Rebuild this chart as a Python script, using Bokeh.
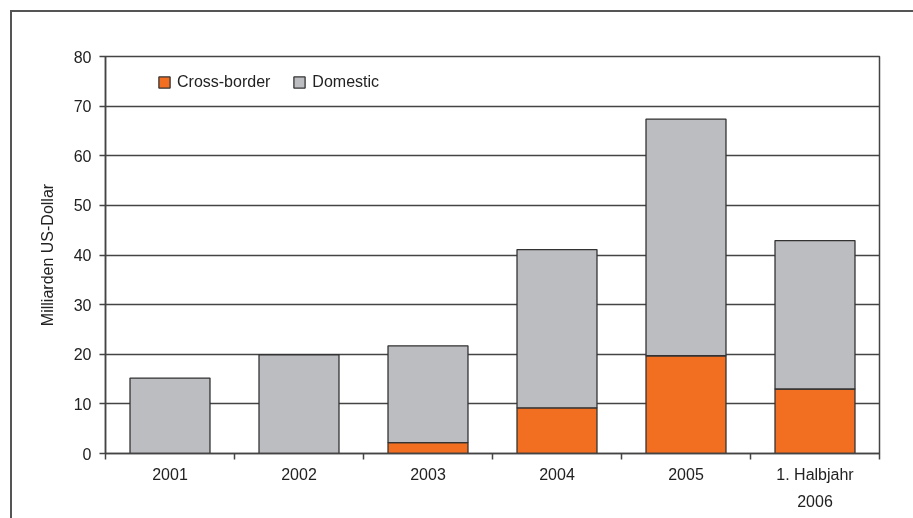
import numpy as np
from bokeh.plotting import figure
from bokeh.models import (ColumnDataSource, FixedTicker, Range1d, Legend)
from bokeh.embed import file_html
from bokeh.resources import INLINE

categories = ["2001", "2002", "2003", "2004", "2005", "1. Halbjahr\n2006"]
cross_border = [0.0, 0.0, 2.2, 9.2, 19.7, 13.0]
domestic = [15.2, 19.9, 19.5, 31.9, 47.7, 29.9]
y_ticks = [0, 10, 20, 30, 40, 50, 60, 70, 80]
series = ["Cross-border", "Domestic"]
colors = ["#F26F22", "#BCBDC1"]

FONT = "Liberation Sans"
x = np.arange(len(categories)) + 0.5
source = ColumnDataSource(dict(x=x, cb=cross_border, dom=domestic))

p = figure(width=905, height=518, output_backend="svg", toolbar_location=None,
           x_range=Range1d(0, len(categories)), y_range=Range1d(0, 80),
           min_border_left=93, min_border_right=38, min_border_top=44, min_border_bottom=77)
p.styles = {"position": "fixed", "left": "10px", "top": "10px",
            "border-style": "solid none none solid", "border-width": "2px 0px 0px 2px",
            "border-color": "#555555"}

rs = p.vbar_stack(["cb", "dom"], x="x", width=0.62, source=source, color=colors,
                  line_color="#333333", line_width=1.3)

p.xaxis.ticker = FixedTicker(ticks=list(x), minor_ticks=list(range(len(categories) + 1)))
p.xaxis.major_label_overrides = {float(xi): c for xi, c in zip(x, categories)}
p.xaxis.major_tick_out = 0
p.xaxis.major_tick_in = 0
p.xaxis.minor_tick_out = 6
p.xaxis.minor_tick_in = 0
p.xaxis.minor_tick_line_color = "#444444"
p.xaxis.minor_tick_line_width = 1.5
p.xaxis.major_label_standoff = 6
p.xaxis.major_label_text_line_height = 1.6

p.yaxis.ticker = FixedTicker(ticks=y_ticks)
p.yaxis.minor_tick_line_color = None
p.yaxis.major_tick_out = 6
p.yaxis.major_tick_in = 0
p.yaxis.major_tick_line_color = "#444444"
p.yaxis.major_tick_line_width = 1.5
p.yaxis.axis_label = "Milliarden US-Dollar"
p.yaxis.axis_label_standoff = 15
p.yaxis.major_label_standoff = 8

for ax in (p.xaxis[0], p.yaxis[0]):
    ax.axis_line_color = "#444444"
    ax.axis_line_width = 1.5
    ax.major_label_text_font = FONT
    ax.major_label_text_font_size = "16px"
    ax.major_label_text_color = "#222222"
    ax.axis_label_text_font = FONT
    ax.axis_label_text_font_size = "16px"
    ax.axis_label_text_font_style = "normal"
    ax.axis_label_text_color = "#222222"

p.xgrid.grid_line_color = None
p.ygrid.ticker = FixedTicker(ticks=y_ticks)
p.ygrid.grid_line_color = "#444444"
p.ygrid.grid_line_width = 1.5
p.outline_line_color = "#444444"
p.outline_line_width = 1.5

legend = Legend(items=[(s, [r]) for s, r in zip(series, rs)], location=(52, 362),
                orientation="horizontal", border_line_color=None, background_fill_alpha=0,
                padding=0, margin=0, spacing=22, label_standoff=6,
                glyph_width=14, glyph_height=14, label_height=14,
                label_text_font=FONT, label_text_font_size="16px", label_text_color="#222222")
p.add_layout(legend)

open("out.html", "w").write(file_html(p, INLINE))
